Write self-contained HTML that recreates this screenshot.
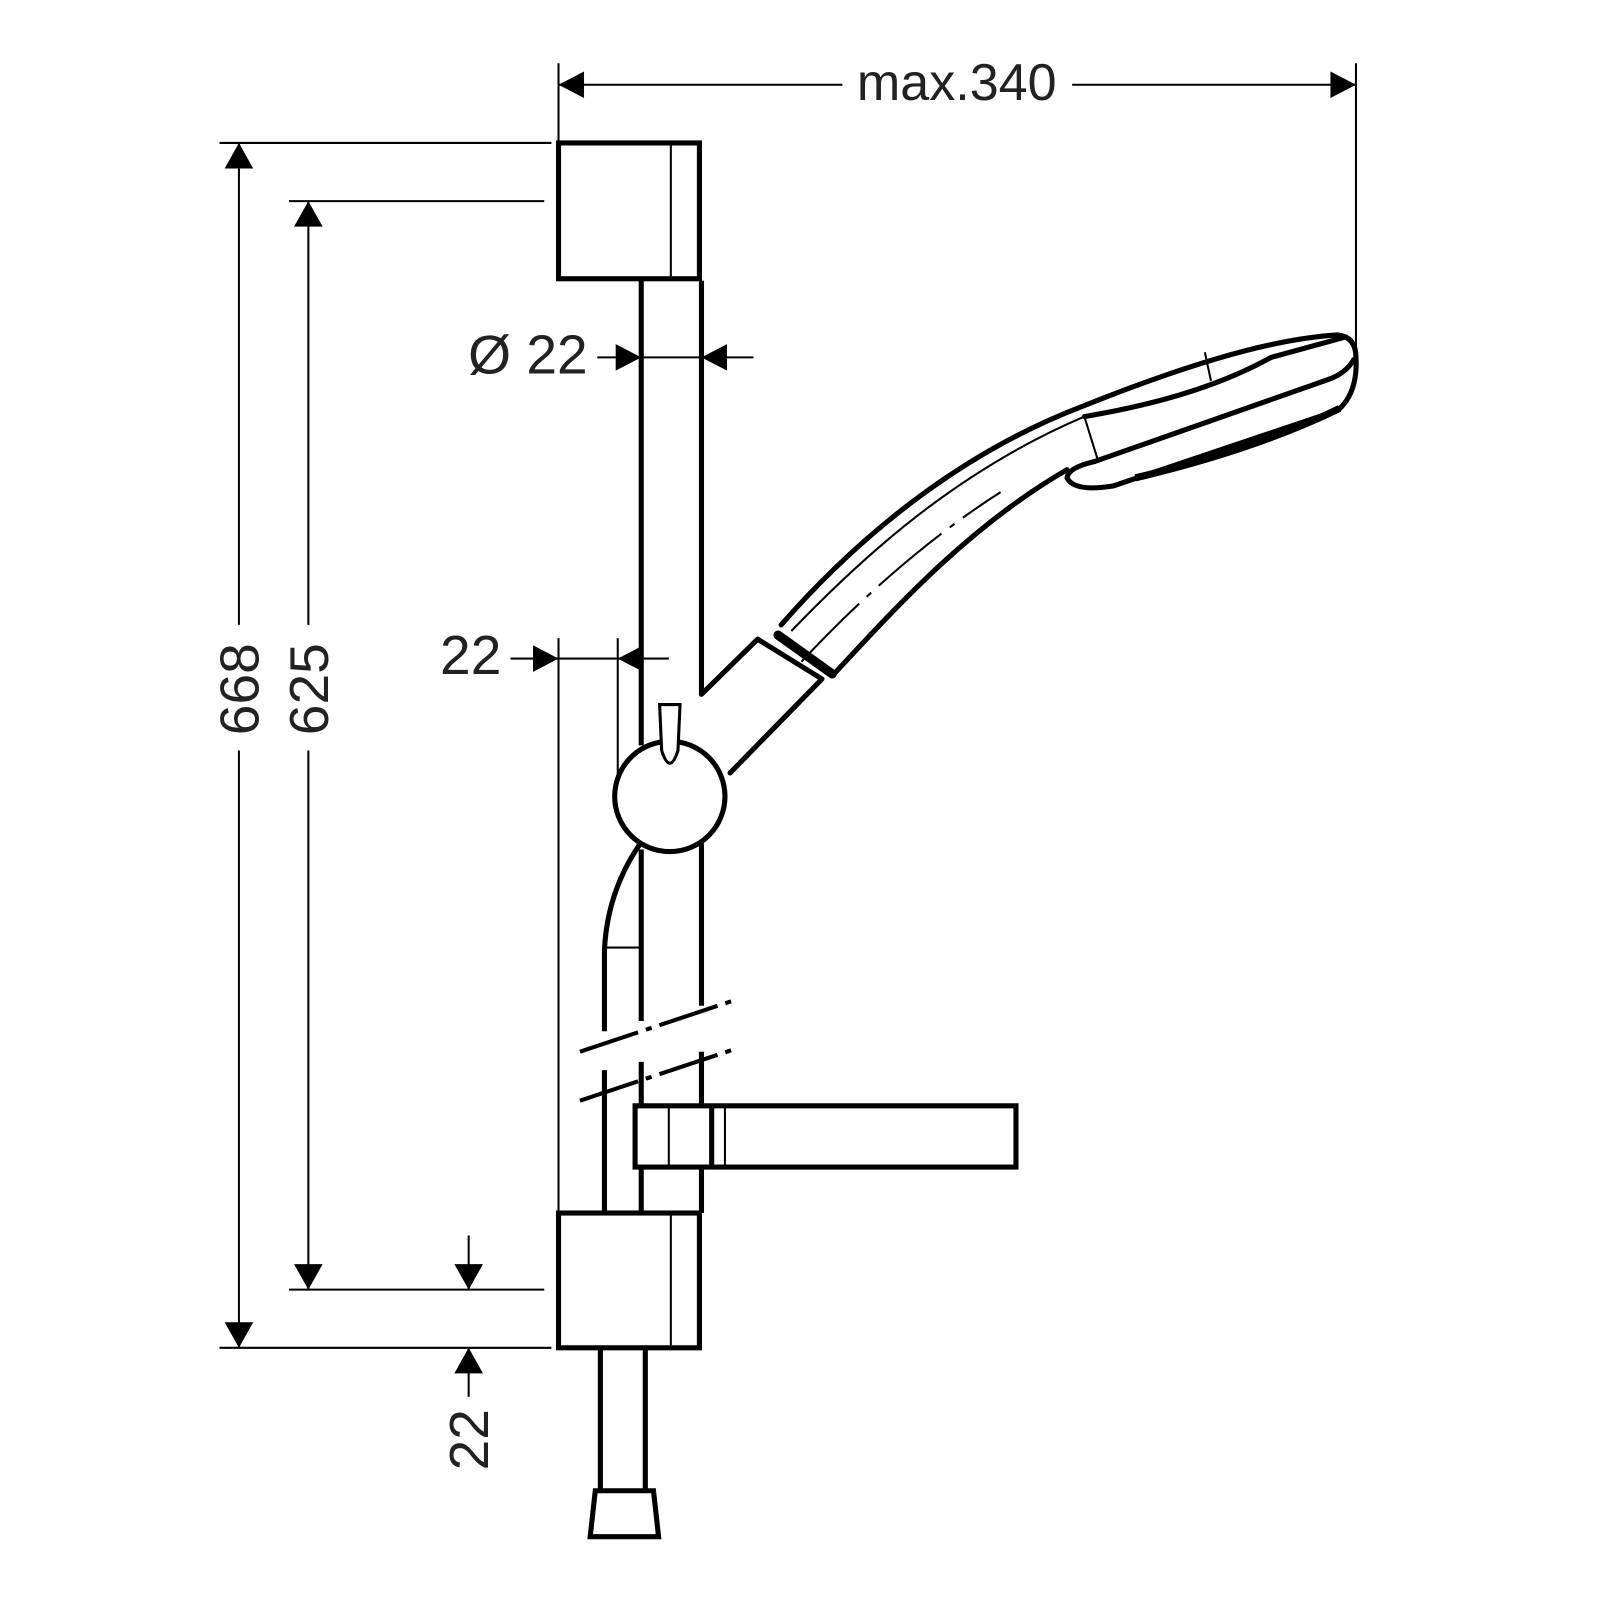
<!DOCTYPE html>
<html><head><meta charset="utf-8"><style>html,body{margin:0;padding:0;background:#fff}svg{display:block}</style></head>
<body>
<svg width="1600" height="1600" viewBox="0 0 1567 1567" xmlns="http://www.w3.org/2000/svg" font-family="Liberation Sans, sans-serif" fill="none" stroke="#000">
<!-- top dimension -->
<g stroke-width="2">
<line x1="547" y1="62" x2="547" y2="140"/>
<line x1="1328" y1="62" x2="1328" y2="340"/>
<line x1="547" y1="83" x2="825" y2="83"/>
<line x1="1050" y1="83" x2="1328" y2="83"/>
</g>
<g fill="#000" stroke="none">
<polygon points="547,83 572,70 572,96"/>
<polygon points="1328,83 1303,70 1303,96"/>
</g>
<text x="937" y="98" font-size="51" text-anchor="middle" fill="#222" stroke="none">max.340</text>

<!-- left dims -->
<g stroke-width="2">
<line x1="215" y1="140" x2="540" y2="140"/>
<line x1="283" y1="197" x2="533" y2="197"/>
<line x1="283" y1="1263" x2="533" y2="1263"/>
<line x1="215" y1="1320" x2="540" y2="1320"/>
<line x1="234" y1="140" x2="234" y2="612"/>
<line x1="234" y1="735" x2="234" y2="1320"/>
<line x1="302" y1="197" x2="302" y2="612"/>
<line x1="302" y1="735" x2="302" y2="1263"/>
<line x1="459" y1="1210" x2="459" y2="1263"/>
<line x1="459" y1="1320" x2="459" y2="1368"/>
</g>
<g fill="#000" stroke="none">
<polygon points="234,140 220,165 248,165"/>
<polygon points="234,1320 220,1295 248,1295"/>
<polygon points="302,197 288,222 316,222"/>
<polygon points="302,1263 288,1238 316,1238"/>
<polygon points="459,1263 445,1238 473,1238"/>
<polygon points="459,1320 445,1345 473,1345"/>
</g>
<g font-size="54" fill="#222" stroke="none" text-anchor="middle">
<text transform="translate(253,675) rotate(-90)">668</text>
<text transform="translate(321,675) rotate(-90)">625</text>
<text transform="translate(478,1410) rotate(-90)">22</text>
<text x="461" y="660">22</text>
<text x="517" y="366">Ø 22</text>
</g>

<g stroke-width="2">
<line x1="585" y1="350" x2="738" y2="350"/>
<line x1="500" y1="645" x2="655" y2="645"/>
<line x1="547" y1="625" x2="547" y2="1188"/>
<line x1="605" y1="625" x2="605" y2="760"/>
</g>
<g fill="#000" stroke="none">
<polygon points="628,350 603,337 603,363"/>
<polygon points="687,350 712,337 712,363"/>
<polygon points="547,645 522,632 522,658"/>
<polygon points="605,645 630,632 630,658"/>
</g>

<g stroke-width="5">
<rect x="547" y="140" width="138" height="133"/>
<rect x="547" y="1188" width="138" height="132"/>
<line x1="628" y1="275" x2="628" y2="730"/>
<line x1="687" y1="275" x2="687" y2="680"/>
<line x1="628" y1="832" x2="628" y2="1000"/>
<line x1="687" y1="760" x2="687" y2="985"/>
<line x1="628" y1="1040" x2="628" y2="1083"/>
<line x1="687" y1="1030" x2="687" y2="1083"/>
<line x1="628" y1="1143" x2="628" y2="1188"/>
<line x1="687" y1="1143" x2="687" y2="1188"/>
<path d="M630,822 Q595,870 592,930 L592,1010"/>
<line x1="592" y1="1048" x2="592" y2="1188"/>
<rect x="622" y="1083" width="373" height="60"/>
<line x1="697" y1="1083" x2="697" y2="1143"/>
<line x1="588" y1="1320" x2="588" y2="1460"/>
<line x1="632" y1="1320" x2="632" y2="1460"/>
<path d="M583,1460 L640,1460 L645,1505 L578,1505 Z"/>
<circle cx="656" cy="780" r="54" fill="#fff"/>
</g>
<g stroke-width="2">
<line x1="657" y1="140" x2="657" y2="273"/>
<line x1="657" y1="1188" x2="657" y2="1320"/>
<line x1="592" y1="928" x2="628" y2="928"/>
<line x1="655" y1="1083" x2="655" y2="1143"/>
<line x1="710" y1="1083" x2="710" y2="1143"/>
</g>
<g stroke-width="4" stroke-dasharray="60,8,6,8">
<line x1="568" y1="1030" x2="718" y2="980"/>
<line x1="568" y1="1078" x2="718" y2="1028"/>
</g>
<path d="M646,690 L666,690 L664,735 Q656,760 648,735 Z" stroke-width="3" fill="#fff"/>

<g stroke-width="5" stroke-linejoin="round" stroke-linecap="round">
<path d="M687,680 L742,626 L805,665 L715,757"/>
<line x1="762" y1="622" x2="815" y2="660" stroke-width="9"/>
<!-- handle upper -->
<path d="M765,612 C850,515 950,440 1060,398 C1150,362 1240,332 1310,328 Q1328,330 1328,350 Q1330,385 1310,402 L1090,476 Q1052,482 1045,468 Q1046,458 1072,452"/>
<!-- handle lower -->
<path d="M815,662 C880,592 950,515 1045,460"/>
<path d="M1062,408 C1140,395 1200,375 1245,350 L1318,330"/>
<path d="M1072,452 L1300,372 Q1318,366 1326,352"/>
</g>
<g stroke-width="2">
<path d="M775,618 C850,540 940,460 1062,408"/>
<path d="M785,648 C850,578 920,520 980,482" stroke-dasharray="80,10,6,10"/>
<line x1="1062" y1="408" x2="1075" y2="450"/>
<line x1="1180" y1="345" x2="1186" y2="373"/>
</g>
<path d="M1112,468 Q1230,440 1312,400" stroke-width="7"/>
</svg>
</body></html>
